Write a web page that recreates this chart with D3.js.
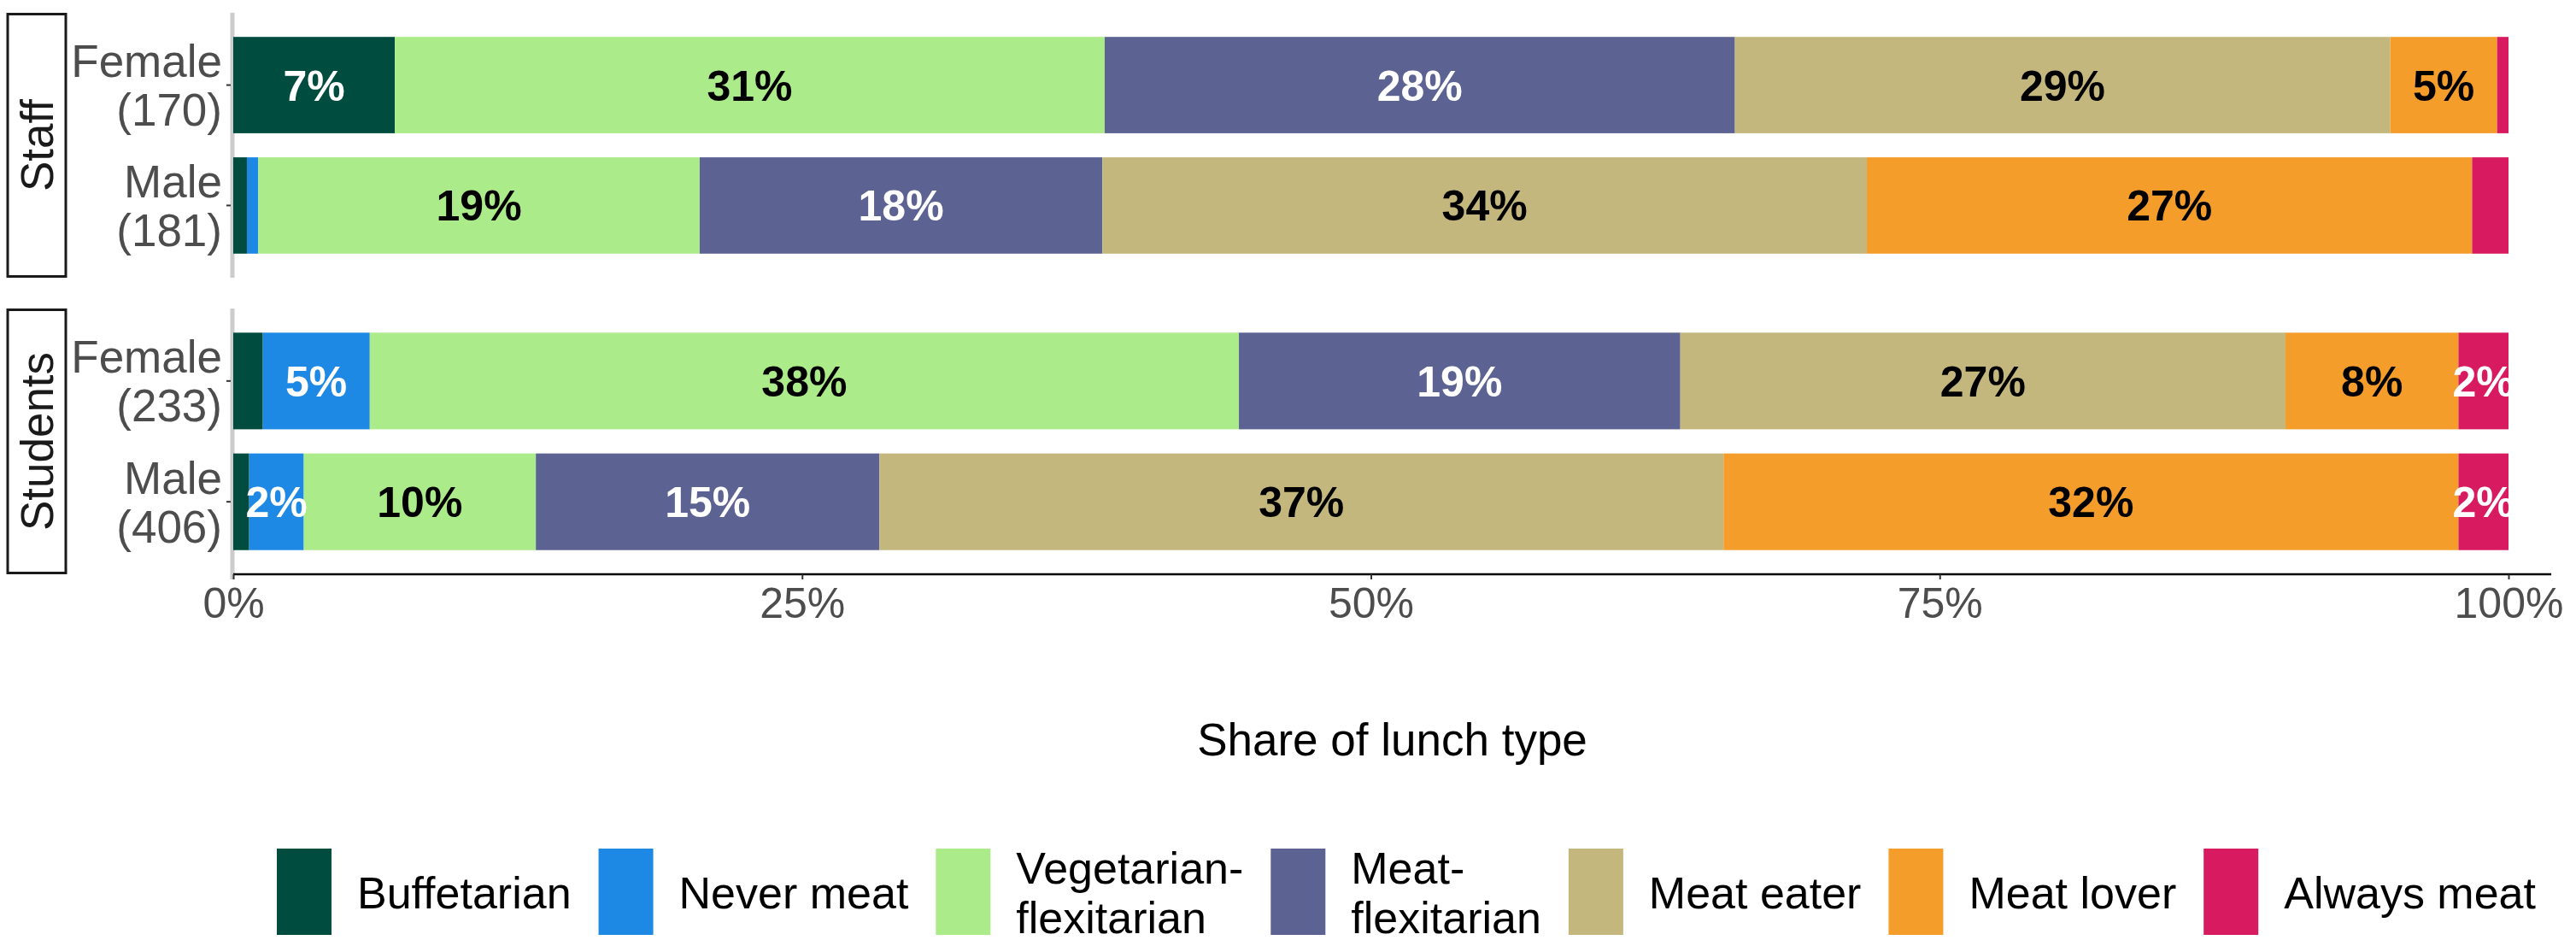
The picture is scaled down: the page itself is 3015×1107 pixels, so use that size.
<!DOCTYPE html>
<html>
<head>
<meta charset="utf-8">
<script src="https://cdn.jsdelivr.net/npm/d3@7"></script>
<style>
  html, body { margin: 0; padding: 0; background: #ffffff; }
  svg { display: block; font-family: "Liberation Sans", Arial, sans-serif; }
</style>
</head>
<body>
<svg id="chart" width="3015" height="1107"></svg>
<script>
// ---------- data ----------
const lunchTypes = ["Buffetarian", "Never meat", "Vegetarian-flexitarian", "Meat-flexitarian", "Meat eater", "Meat lover", "Always meat"];
const legendLabels = [["Buffetarian"], ["Never meat"], ["Vegetarian-", "flexitarian"], ["Meat-", "flexitarian"], ["Meat eater"], ["Meat lover"], ["Always meat"]];
const typeColors = ["#004D40", "#1E88E5", "#ACEB89", "#5C6393", "#C4B77E", "#F59D2B", "#D81B60"];
const labelColors = ["#ffffff", "#ffffff", "#000000", "#ffffff", "#000000", "#000000", "#ffffff"];

const facets = ["Staff", "Students"];
const rowFacet = ["Staff", "Staff", "Students", "Students"];
const rowGender = ["Female", "Male", "Female", "Male"];
const rowN = [170, 181, 233, 406];

// percent share of each lunch type per row
const buffetarian = [7.1, 0.6, 1.3, 0.7];
const neverMeat   = [0.0, 0.5, 4.7, 2.4];
const vegFlex     = [31.2, 19.4, 38.2, 10.2];
const meatFlex    = [27.7, 17.7, 19.4, 15.1];
const meatEater   = [28.8, 33.6, 26.6, 37.1];
const meatLover   = [4.7, 26.6, 7.6, 32.3];
const alwaysMeat  = [0.5, 1.6, 2.2, 2.2];

const xTicks = [0, 25, 50, 75, 100];
const xTitle = "Share of lunch type";

// ---------- build table ----------
const seriesArrays = [buffetarian, neverMeat, vegFlex, meatFlex, meatEater, meatLover, alwaysMeat];
const rows = rowGender.map((g, i) => {
  const r = { facet: rowFacet[i], gender: g, n: rowN[i] };
  lunchTypes.forEach((t, j) => { r[t] = seriesArrays[j][i]; });
  return r;
});

// ---------- layout ----------
const svg = d3.select("#chart");
const fontFam = '"Liberation Sans", Arial, sans-serif';
const x = d3.scaleLinear().domain([0, 100]).range([273, 2936]);
const xEnd = 2986;
const panelY = { Staff: [15, 325], Students: [361, 672] };
const color = d3.scaleOrdinal().domain(lunchTypes).range(typeColors);
const labColor = d3.scaleOrdinal().domain(lunchTypes).range(labelColors);

const stack = d3.stack().keys(lunchTypes);

facets.forEach(f => {
  const fRows = rows.filter(r => r.facet === f);
  const [y0, y1] = panelY[f];
  const y = d3.scaleBand().domain(fRows.map(r => r.gender)).range([y0, y1])
    .paddingInner(0.2).paddingOuter(0.2);
  const g = svg.append("g");

  // strip
  g.append("rect").attr("x", 9).attr("y", y0 + 1.5).attr("width", 68).attr("height", y1 - y0 - 3)
    .attr("fill", "#ffffff").attr("stroke", "#1a1a1a").attr("stroke-width", 3);
  g.append("text")
    .attr("transform", `translate(${43 + 19},${(y0 + y1) / 2}) rotate(-90)`)
    .attr("text-anchor", "middle").attr("font-size", 53).attr("fill", "#1a1a1a")
    .text(f);

  // gray left line
  g.append("line").attr("x1", 272).attr("x2", 272)
    .attr("y1", y0).attr("y2", f === "Students" ? 678 : y1)
    .attr("stroke", "#cccccc").attr("stroke-width", 5);

  // y axis ticks + labels
  const yAxis = d3.axisLeft(y).tickSize(5).tickFormat("");
  const ya = g.append("g").attr("transform", "translate(270,0)").call(yAxis);
  ya.select(".domain").remove();
  ya.selectAll(".tick line").attr("stroke", "#333333").attr("stroke-width", 2);
  fRows.forEach(r => {
    const cy = y(r.gender) + y.bandwidth() / 2;
    const t = g.append("text").attr("text-anchor", "end").attr("font-size", 53).attr("fill", "#4d4d4d");
    t.append("tspan").attr("x", 260).attr("y", cy - 9.5).text(r.gender);
    t.append("tspan").attr("x", 260).attr("y", cy + 47.5).text(`(${r.n})`);
  });

  // bars
  const stacked = stack(fRows);
  stacked.forEach(layer => {
    const key = layer.key;
    const lg = g.append("g");
    lg.selectAll("rect").data(layer).join("rect")
      .attr("x", d => x(d[0]))
      .attr("width", d => Math.max(0, x(d[1]) - x(d[0])))
      .attr("y", d => y(d.data.gender))
      .attr("height", y.bandwidth())
      .attr("fill", color(key));
  });
  stacked.forEach(layer => {
    const key = layer.key;
    g.append("g").selectAll("text").data(layer.filter(d => d[1] - d[0] >= 2)).join("text")
      .attr("x", d => x((d[0] + d[1]) / 2))
      .attr("y", d => y(d.data.gender) + y.bandwidth() / 2 + 18)
      .attr("text-anchor", "middle")
      .attr("font-size", 50).attr("font-weight", "bold")
      .attr("fill", labColor(key))
      .text(d => Math.round(d[1] - d[0]) + "%");
  });
});

// x axis
const axisY = 672;
svg.append("line").attr("x1", 273).attr("x2", xEnd).attr("y1", axisY).attr("y2", axisY)
  .attr("stroke", "#000000").attr("stroke-width", 2.5);
const xa = svg.append("g").attr("transform", `translate(0,${axisY})`)
  .call(d3.axisBottom(x).tickValues(xTicks).tickFormat(d => d + "%").tickSize(6));
xa.select(".domain").remove();
xa.selectAll(".tick line").attr("stroke", "#333333").attr("stroke-width", 2);
xa.selectAll(".tick text").attr("y", 51).attr("dy", 0)
  .attr("font-size", 50).attr("font-family", fontFam).attr("fill", "#4d4d4d");

// x title
svg.append("text").attr("x", (273 + xEnd) / 2).attr("y", 884)
  .attr("text-anchor", "middle").attr("font-size", 53).attr("fill", "#000000")
  .text(xTitle);

// legend
const leg = svg.append("g");
let lx = 324;
lunchTypes.forEach((t, i) => {
  leg.append("rect").attr("x", lx).attr("y", 993).attr("width", 64).attr("height", 101)
    .attr("fill", color(t));
  const lines = legendLabels[i];
  const txt = leg.append("text").attr("font-size", 52).attr("fill", "#000000");
  const baselines = lines.length === 1 ? [1063] : [1034, 1092];
  let maxW = 0;
  lines.forEach((ln, k) => {
    const ts = txt.append("tspan").attr("x", lx + 94).attr("y", baselines[k]).text(ln);
    maxW = Math.max(maxW, ts.node().getComputedTextLength());
  });
  lx += 94 + maxW + 32;
});
</script>
</body>
</html>
